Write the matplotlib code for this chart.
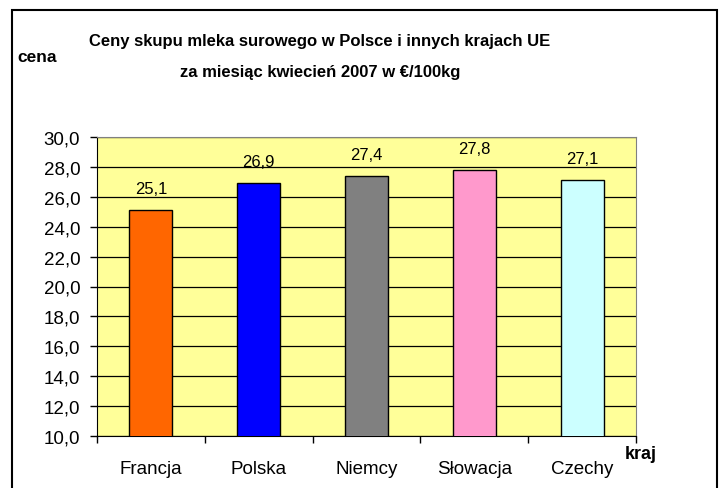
import matplotlib.pyplot as plt
import matplotlib.patches as patches

kraje = ["Francja", "Polska", "Niemcy", "Słowacja", "Czechy"]
ceny = [25.1, 26.9, 27.4, 27.8, 27.1]
kolory = ["#FF6600", "#0000FF", "#808080", "#FF99CC", "#CCFFFF"]
y_ticks = [10, 12, 14, 16, 18, 20, 22, 24, 26, 28, 30]

plt.rcParams['font.family'] = ['Liberation Sans', 'DejaVu Sans']

fig = plt.figure(figsize=(7.21, 4.89), dpi=100)
ax = fig.add_axes([97/721, 52/489, 539/721, 299/489])
ax.set_facecolor("#FFFF99")

x = list(range(len(kraje)))
bars = ax.bar(x, ceny, width=0.4, color=kolory, edgecolor="black", linewidth=1, zorder=3)
for xi, v in zip(x, ceny):
    ax.annotate(f"{v:.1f}".replace(".", ","), (xi, v), xytext=(0, 10),
                textcoords="offset points", ha="center", va="bottom", fontsize=12)

ax.set_xlim(-0.5, len(kraje) - 0.5)
ax.set_ylim(10, 30)
ax.set_yticks(y_ticks)
ax.set_yticklabels([f"{t:.1f}".replace(".", ",") for t in y_ticks], fontsize=13.5)
ax.yaxis.grid(True, color="black", linewidth=0.9, zorder=0)
ax.set_axisbelow(True)

ax.set_xticks([i - 0.5 for i in range(len(kraje) + 1)])
ax.set_xticklabels([])
ax.set_xticks(x, minor=True)
ax.set_xticklabels(kraje, minor=True, fontsize=13.5)
ax.tick_params(axis="x", which="major", direction="out", length=5, width=1)
ax.tick_params(axis="x", which="minor", length=0, pad=17)
ax.tick_params(axis="y", direction="out", length=5, width=1, pad=7)

for s in ["top", "right"]:
    ax.spines[s].set_color("#808080")
for s in ["left", "bottom"]:
    ax.spines[s].set_color("black")

fig.text(0.444, 1 - 42/489, "Ceny skupu mleka surowego w Polsce i innych krajach UE",
         ha="center", va="center", fontsize=12, fontweight="bold")
fig.text(0.444, 1 - 72/489, "za miesiąc kwiecień 2007 w €/100kg",
         ha="center", va="center", fontsize=12, fontweight="bold")
fig.text(17/721, 1 - 57/489, "cena", ha="left", va="center", fontsize=12.5, fontweight="bold")
fig.text(625/721, 34/489, "kraj", ha="left", va="center", fontsize=13, fontweight="bold")

ramka = patches.Rectangle((12/721, -0.02), 705/721, 1.02 - 11/489, transform=fig.transFigure,
                          fill=False, edgecolor="black", linewidth=1.5, clip_on=False)
fig.patches.append(ramka)

fig.savefig("out.png", dpi=100)
